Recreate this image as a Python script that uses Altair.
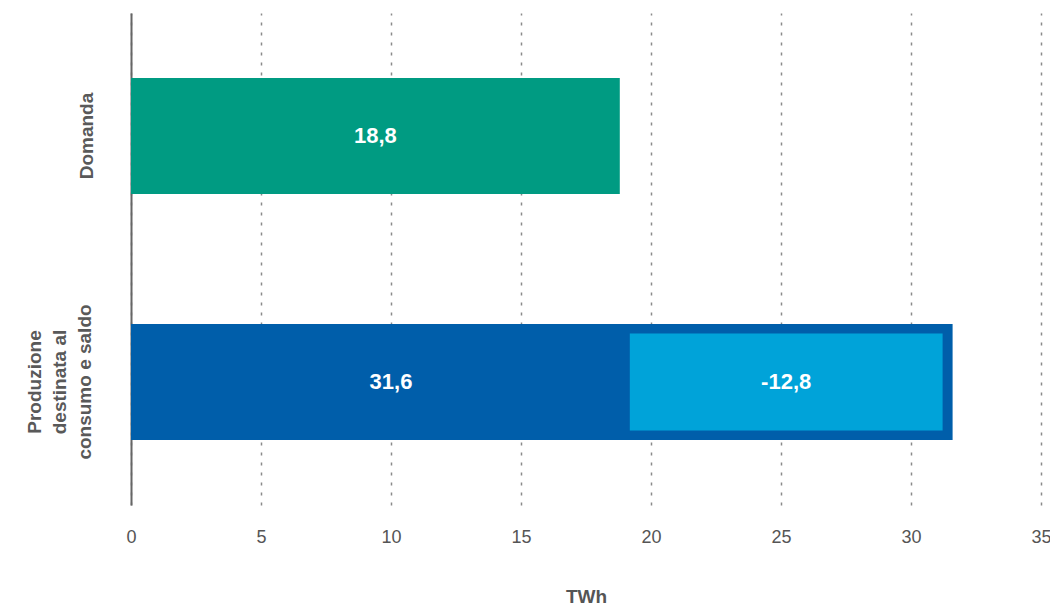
import altair as alt
import pandas as pd

# Data
categories = ["Domanda", "Produzione\ndestinata al\nconsumo e saldo"]
bar_starts = [0.0, 0.0]
bar_ends = [18.8, 31.6]
bar_colors = ["#009B82", "#005EAA"]
bar_labels = ["18,8", "31,6"]
label_pos = [9.4, 10.0]

saldo_category = ["Produzione\ndestinata al\nconsumo e saldo"]
saldo_start = [18.8]
saldo_end = [31.6]
saldo_label = ["-12,8"]
saldo_label_pos = [25.2]

bars = pd.DataFrame({
    "cat": categories,
    "start": bar_starts,
    "end": bar_ends,
    "color": bar_colors,
    "label": bar_labels,
    "pos": label_pos,
})
saldo = pd.DataFrame({
    "cat": saldo_category,
    "start": saldo_start,
    "end": saldo_end,
    "label": saldo_label,
    "pos": saldo_label_pos,
})
single_line_cats = pd.DataFrame({"cat": [c for c in categories if "\n" not in c]})

FONT = "Liberation Sans"
LABEL_COLOR = "#595959"

x_scale = alt.Scale(domain=[0, 35], nice=False, zero=True)
y_scale = alt.Scale(domain=categories, paddingInner=0.53, paddingOuter=0.265)

x_axis = alt.Axis(
    values=[0, 5, 10, 15, 20, 25, 30, 35],
    title="TWh",
    domain=False,
    ticks=False,
    grid=True,
    gridDash=[3, 7],
    gridColor="#8a8a8a",
    gridWidth=1.5,
    gridOpacity=1,
    labelFlush=False,
    labelFontSize=18,
    labelColor="#555555",
    labelFont=FONT,
    labelPadding=23,
    titleFont=FONT,
    titleFontSize=19,
    titleFontWeight="bold",
    titleColor="#555555",
    titlePadding=41,
)

# multi-line category labels on the axis; single-line ones drawn by a text layer
y_axis = alt.Axis(
    title=None,
    domain=True,
    domainColor="#666666",
    domainWidth=2,
    ticks=False,
    grid=False,
    labelAngle=-90,
    labelAlign="center",
    labelBaseline="bottom",
    labelFontSize=19,
    labelFontWeight="bold",
    labelColor=LABEL_COLOR,
    labelFont=FONT,
    labelPadding=87,
    labelLineHeight=25,
    labelExpr="length(split(datum.label, '\\n')) == 1 ? '' : split(datum.label, '\\n')",
)

base_bars = alt.Chart(bars).mark_bar(size=116).encode(
    x=alt.X("start:Q", scale=x_scale, axis=x_axis),
    x2="end:Q",
    y=alt.Y("cat:N", scale=y_scale, axis=y_axis, sort=categories),
    color=alt.Color("color:N", scale=None, legend=None),
)

saldo_bar = alt.Chart(saldo).mark_bar(
    size=97, color="#00A3D9", xOffset=10, x2Offset=-10
).encode(
    x=alt.X("start:Q", scale=x_scale),
    x2="end:Q",
    y=alt.Y("cat:N", scale=y_scale, sort=categories),
)

bar_text = alt.Chart(bars).mark_text(
    color="white", fontSize=22, fontWeight="bold", font=FONT, align="center", baseline="middle"
).encode(
    x=alt.X("pos:Q", scale=x_scale),
    y=alt.Y("cat:N", scale=y_scale, sort=categories),
    text="label:N",
)

saldo_text = alt.Chart(saldo).mark_text(
    color="white", fontSize=22, fontWeight="bold", font=FONT, align="center", baseline="middle"
).encode(
    x=alt.X("pos:Q", scale=x_scale),
    y=alt.Y("cat:N", scale=y_scale, sort=categories),
    text="label:N",
)

single_label = alt.Chart(single_line_cats).mark_text(
    angle=270, align="center", baseline="bottom", fontSize=19, fontWeight="bold",
    font=FONT, color=LABEL_COLOR
).encode(
    x=alt.value(-34),
    y=alt.Y("cat:N", scale=y_scale, sort=categories),
    text="cat:N",
)

chart = alt.layer(base_bars, saldo_bar, bar_text, saldo_text, single_label).properties(
    width=910,
    height=492,
    background="white",
    autosize=alt.AutoSizeParams(type="none"),
    padding={"left": 123, "top": 5, "right": 9, "bottom": 100},
).configure_view(stroke=None)

chart.save("out.html", embed_options={"renderer": "svg", "actions": False})
